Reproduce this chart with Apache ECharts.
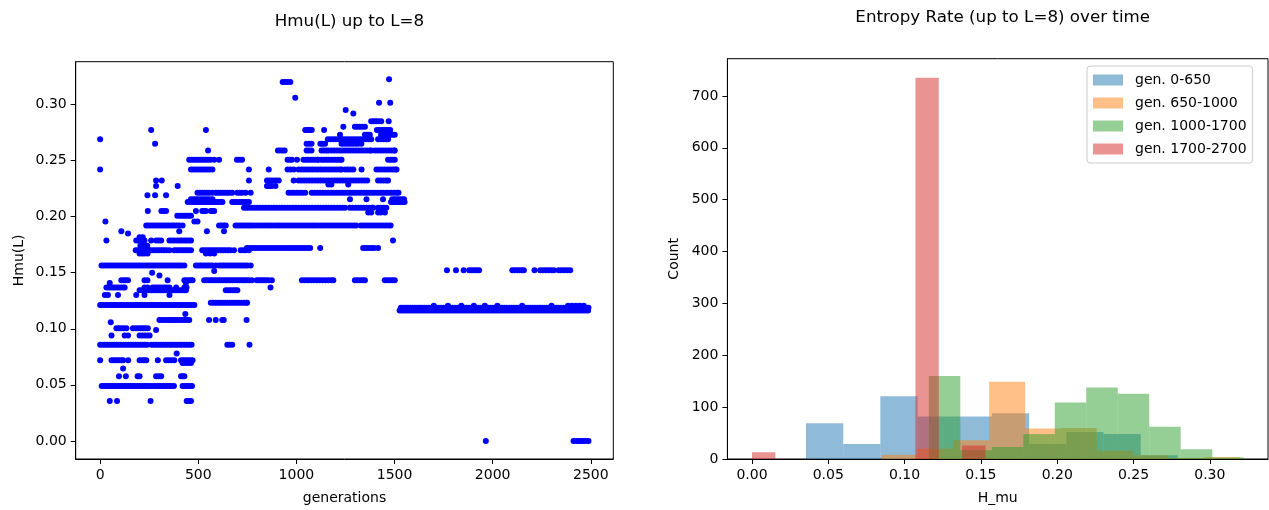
<!DOCTYPE html>
<html><head><meta charset="utf-8">
<script src="https://cdn.jsdelivr.net/npm/echarts@6/dist/echarts.min.js"></script>
<style>html,body{margin:0;padding:0;background:#fff}#c{width:1269px;height:510px}</style>
</head><body><div id="c"></div>
<script>
// ---------- Left panel: Hmu(L) per generation (generation lists per Hmu level) ----------
const g0000 = [1965,2412,2425,2438,2450,2462,2475,2488];
const g0357 = [49,86,257,441,452,463];
const g0489 = [8,20,32,44,56,68,80,92,104,116,128,140,152,164,176,188,200,212,224,236,248,262,276,290,302,314,326,338,350,362,376,420,432,444,456,468];
const g0577 = [96,131,191,201,285,298,311,412,421,429];
const g0645 = [117];
const g0695 = [420,435,450,463];
const g0719 = [0,58,70,82,95,107,117,143,201,213,224,235,294,336,350,364,378,412,424,436,448,460,471];
const g0780 = [390];
const g0857 = [0,12,24,36,48,60,72,84,96,108,120,132,144,156,168,180,192,204,216,228,240,262,274,286,298,310,322,334,346,358,370,382,394,406,418,430,442,454,466,648,660,673,761];
const g0940 = [58,125,142,201,214,227,240,252];
const g0990 = [285];
const g1005 = [83,95,108,120,134,167,180,193,206,218,230,243];
const g1058 = [54];
const g1079 = [302,315,328,341,354,367,380,393,406,419,432,445,454,555,589,622,630,746];
const g1132 = [434];
const g1163 = [1526,1538,1550,1562,1574,1586,1598,1610,1622,1634,1646,1658,1670,1682,1694,1706,1718,1730,1742,1754,1766,1778,1790,1802,1814,1826,1838,1850,1862,1874,1886,1898,1910,1922,1934,1946,1958,1970,1982,1994,2006,2018,2030,2042,2054,2066,2078,2090,2102,2114,2126,2138,2150,2162,2174,2186,2198,2210,2222,2234,2246,2258,2270,2282,2294,2306,2318,2330,2342,2354,2366,2378,2390,2402,2414,2426,2438,2450,2462,2474,2486];
const g1187 = [1532,1544,1556,1568,1580,1592,1604,1616,1628,1640,1652,1664,1676,1688,1700,1712,1724,1736,1748,1760,1772,1784,1796,1808,1820,1832,1844,1856,1868,1880,1892,1904,1916,1928,1940,1952,1964,1976,1988,2000,2012,2024,2036,2048,2060,2072,2084,2096,2108,2120,2132,2144,2156,2168,2180,2192,2204,2216,2228,2240,2252,2264,2276,2288,2300,2312,2324,2336,2348,2360,2372,2384,2396,2408,2420,2432,2444,2456,2468,2480,2488];
const g1205 = [1700,1772,1840,1904,1960,2024,2150,2300,2384,2404,2424,2444,2464];
const g1211 = [0,12,24,36,48,60,72,84,96,108,120,132,144,156,168,180,192,204,216,228,240,252,264,276,288,300,312,324,336,348,360,372,384,396,408,420,432,444,456,468,480];
const g1232 = [564,576,588,600,612,624,636,648,660,672,684,696,708,720,732,744,749];
const g1300 = [24,40,91,184,226,353];
const g1344 = [201,213,225,237,249,261,273,285,297,309,321,333,345,357,369,381,393,405,417,429,437,640,652,664,676,688,699];
const g1367 = [32,44,56,68,80,92,104,116,125,226,241,267,279,291,303,315,327,339,353,387,429,440,868];
const g1408 = [49,437];
const g1432 = [108,120,131,142,226,241,344,429,440,452,463,471,530,542,554,566,578,590,602,614,626,638,650,662,674,686,698,710,722,734,746,758,773,798,810,822,834,846,858,875,1028,1043,1058,1073,1088,1103,1118,1133,1148,1163,1178,1188,1298,1311,1324,1337,1349,1450,1463,1476,1489,1501];
const g1476 = [302];
const g1500 = [265];
const g1515 = [581];
const g1521 = [1767,1813,1852,1880,1893,1906,1919,1931,2100,2112,2125,2137,2149,2159,2213,2242,2256,2270,2284,2298,2311,2336,2350,2365,2380,2395];
const g1565 = [7,19,31,43,55,67,79,91,103,115,127,139,151,163,175,187,199,211,223,235,247,259,271,283,295,307,319,331,343,355,367,379,391,403,415,429,488,500,512,524,536,548,560,572,589,606,618,630,642,654,666,678,690,702,714,726,738,750,767];
const g1670 = [201,214,226,242,539,560,581];
const g1700 = [181,193,205,217,229,241,253,265,277,289,301,313,325,337,353,378,390,402,414,426,438,450,463,520,532,544,556,568,580,592,604,616,628,640,652,664,682,716,728,740,758];
const g1720 = [748,762,776,790,804,818,832,846,860,874,888,902,916,930,944,958,972,986,1000,1014,1028,1042,1056,1070,1121,1340,1354,1368,1382,1396,1416];
const g1740 = [205,222,240];
const g1786 = [32,184,196,208,220,226,260,285,298,311,353,366,378,393,405,417,429,441,453,463,1492];
const g1815 = [201,217];
const g1850 = [142];
const g1870 = [108,403,544,631];
const g1920 = [235,247,259,271,283,295,307,319,331,343,355,367,379,391,403,420,606,618,630,640,690,702,714,726,738,750,762,774,788,802,816,830,844,858,872,886,900,914,928,942,956,970,984,998,1012,1026,1040,1054,1068,1082,1096,1110,1124,1138,1152,1166,1180,1194,1208,1222,1236,1250,1264,1278,1292,1304,1328,1342,1356,1370,1384,1398,1412,1426,1440,1454,1468,1480];
const g1957 = [27,480,496];
const g2007 = [393,405,417,429,441,453,463];
const g2036 = [1366,1381,1416,1430,1451];
const g2051 = [243,312,324,336,488,520,530,539,564,572,581];
const g2080 = [733,745,758,773,787,801,815,829,843,857,871,885,899,913,927,941,955,969,983,997,1011,1025,1039,1053,1067,1081,1095,1109,1123,1137,1151,1165,1179,1193,1207,1221,1235,1248,1273,1287,1301,1315,1329,1343,1357,1371,1385,1391,1416,1430,1444,1458];
const g2130 = [446,458,470,482,494,506,518,530,542,554,566,578,590,602,614,623,673,685,697,709,721,733,745,758,1482,1492,1502,1512,1522,1532,1542,1551];
const g2154 = [463,475,487,499,511,523,535,547,559,572,1273,1357,1441,1488,1500,1512,1524,1536,1548];
const g2190 = [241,280,336];
const g2213 = [496,508,520,532,544,556,572,589,601,613,625,637,649,661,673,699,711,723,741,767,960,974,988,1002,1016,1030,1045,1078,1092,1106,1120,1134,1148,1162,1176,1190,1204,1218,1232,1246,1260,1274,1288,1302,1316,1330,1344,1358,1372,1386,1400,1414,1428,1442,1456,1470,1484,1498,1512,1520];
const g2272 = [285,395,850,862,874,893];
const g2287 = [1163,1178,1264];
const g2322 = [285,314,758,850,862,874,886,898,910,986,1011,1025,1039,1053,1067,1081,1095,1109,1123,1137,1151,1165,1179,1193,1207,1221,1235,1249,1263,1277,1291,1305,1319,1333,1347,1361,1416,1430,1444,1458,1467];
const g2420 = [0,463,475,487,499,511,523,535,547,559,572,758,859,955,970,986,1011,1025,1039,1053,1067,1081,1095,1109,1123,1137,1151,1165,1179,1193,1207,1221,1230,1248,1262,1276,1290,1332,1408,1422,1436,1450,1464,1478,1492,1504,1510];
const g2507 = [454,466,478,490,502,514,526,538,550,562,581,606,697,710,723,955,966,977,1003,1036,1048,1060,1072,1084,1096,1108,1112,1128,1140,1152,1164,1176,1188,1200,1212,1224,1230,1467,1478,1490,1501];
const g2590 = [550,906,917,929,940,1052,1064,1077,1128,1140,1152,1163,1178,1192,1206,1220,1234,1248,1262,1276,1290,1304,1318,1332,1346,1360,1374,1381,1400,1414,1428,1442,1456,1470,1484,1498,1501];
const g2650 = [280,1052,1064,1077,1122,1134,1146,1230,1244,1258,1272,1286,1300,1314,1331];
const g2690 = [0,1160,1174,1188,1202,1216,1230,1244,1258,1272,1286,1300,1314,1328,1342,1356,1370,1381,1416,1430,1444,1458,1467];
const g2730 = [1222,1349,1362,1374,1431,1443,1455,1467,1479,1491,1501];
const g2773 = [260,539,1045,1056,1067,1078,1141,1410,1422,1434,1446,1458,1470,1478];
const g2800 = [1239,1298,1310,1323,1336,1349];
const g2850 = [1381,1393,1405,1417,1432,1470];
const g2920 = [1290];
const g2950 = [1251];
const g3015 = [1421,1478];
const g3060 = [994];
const g3200 = [930,942,954,969];
const g3224 = [1472];

const scatterLevels = [
  [0.0, g0000],[0.0357, g0357],[0.0489, g0489],[0.0577, g0577],[0.0645, g0645],[0.0695, g0695],
  [0.0719, g0719],[0.078, g0780],[0.0857, g0857],[0.094, g0940],[0.099, g0990],[0.1005, g1005],
  [0.1058, g1058],[0.1079, g1079],[0.1132, g1132],[0.1163, g1163],[0.1187, g1187],[0.1205, g1205],
  [0.1211, g1211],[0.1232, g1232],[0.130, g1300],[0.1344, g1344],[0.1367, g1367],[0.1408, g1408],
  [0.1432, g1432],[0.1476, g1476],[0.150, g1500],[0.1515, g1515],[0.1521, g1521],[0.1565, g1565],
  [0.167, g1670],[0.170, g1700],[0.172, g1720],[0.174, g1740],[0.1786, g1786],[0.1815, g1815],
  [0.185, g1850],[0.187, g1870],[0.192, g1920],[0.1957, g1957],[0.2007, g2007],[0.2036, g2036],
  [0.2051, g2051],[0.208, g2080],[0.213, g2130],[0.2154, g2154],[0.219, g2190],[0.2213, g2213],
  [0.2272, g2272],[0.2287, g2287],[0.2322, g2322],[0.242, g2420],[0.2507, g2507],[0.259, g2590],
  [0.265, g2650],[0.269, g2690],[0.273, g2730],[0.2773, g2773],[0.280, g2800],[0.285, g2850],
  [0.292, g2920],[0.295, g2950],[0.3015, g3015],[0.306, g3060],[0.320, g3200],[0.3224, g3224]
];

const genTicks = [0, 500, 1000, 1500, 2000, 2500];
const hTicks = [0, 0.05, 0.10, 0.15, 0.20, 0.25, 0.30];
const countTicks = [0, 100, 200, 300, 400, 500, 600, 700];

// ---------- Right panel: histograms (bin edges + counts) ----------
const histNames = ['gen. 0-650', 'gen. 650-1000', 'gen. 1000-1700', 'gen. 1700-2700'];
const edges0650 = [0.0354,0.0598,0.0841,0.1085,0.1329,0.1572,0.1816,0.2060,0.2303,0.2547,0.2790];
const counts0650 = [69,29,121,82,82,88,29,52,48,7];
const edges1000 = [0.0849,0.1084,0.1319,0.1554,0.1789,0.2024,0.2259,0.2494,0.2729,0.2964,0.3199];
const counts1000 = [8,20,36,149,59,60,16,7,1,4];
const edges1700 = [0.1159,0.1365,0.1572,0.1778,0.1984,0.2190,0.2397,0.2603,0.2809,0.3016,0.3222];
const counts1700 = [160,17,23,48,109,138,126,62,19,3];
const edges2700 = [0,0.0153,0.0306,0.0459,0.0612,0.0765,0.0918,0.1071,0.1224,0.1377,0.1530];
const counts2700 = [13,0,0,0,0,0,0,735,0,26];
const histColors = ['rgba(31,119,180,0.5)','rgba(255,127,14,0.5)','rgba(44,160,44,0.5)','rgba(214,39,40,0.5)'];

// ---------- build ----------
const scatterData = [];
scatterLevels.forEach(([v, gens]) => gens.forEach(g => scatterData.push([g, v])));

function binData(edges, counts) {
  const out = [];
  counts.forEach((c, i) => { if (c > 0) out.push([edges[i], edges[i + 1], c]); });
  return out;
}
const histSets = [[edges0650, counts0650],[edges1000, counts1000],[edges1700, counts1700],[edges2700, counts2700]];

const FONT = 'DejaVu Sans';
const txt = { color: '#000', fontFamily: FONT, fontSize: 14 };

function valAxis(grid, min, max, ticks, fmt, name, gap) {
  return {
    gridIndex: grid, type: 'value', min: min, max: max,
    axisLine: { show: true, onZero: false, lineStyle: { color: '#000', width: 1 } },
    axisTick: { show: true, customValues: ticks, length: 5, lineStyle: { color: '#000', width: 1 } },
    axisLabel: Object.assign({ customValues: ticks, formatter: fmt, margin: 9 }, txt),
    splitLine: { show: false },
    name: name, nameLocation: 'middle', nameGap: gap,
    nameTextStyle: Object.assign({}, txt)
  };
}

const chart = echarts.init(document.getElementById('c'));
chart.setOption({
  animation: false,
  backgroundColor: '#fff',
  textStyle: { fontFamily: FONT },
  title: [
    { text: 'Hmu(L) up to L=8', left: 344.5, top: 8, textAlign: 'center',
      textStyle: { color: '#000', fontFamily: FONT, fontSize: 16.7, fontWeight: 'normal' } },
    { text: 'Entropy Rate (up to L=8) over time', left: 997.7, top: 4, textAlign: 'center',
      textStyle: { color: '#000', fontFamily: FONT, fontSize: 16.7, fontWeight: 'normal' } }
  ],
  grid: [
    { left: 75.7, right: 655.7, top: 61.7, bottom: 46.7, show: true, borderColor: '#000', borderWidth: 1, backgroundColor: 'transparent' },
    { left: 727.4, right: 1, top: 58.7, bottom: 47, show: true, borderColor: '#000', borderWidth: 1, backgroundColor: 'transparent' }
  ],
  xAxis: [
    valAxis(0, -124.5, 2614.5, genTicks, v => String(v), 'generations', 32),
    valAxis(1, -0.0161, 0.3381, hTicks, v => v.toFixed(2), 'H_mu', 32)
  ],
  yAxis: [
    valAxis(0, -0.0161, 0.3381, hTicks, v => v.toFixed(2), 'Hmu(L)', 49),
    valAxis(1, 0, 771.75, countTicks, v => String(v), 'Count', 46)
  ],
  legend: {
    data: histNames, left: 1087, top: 66, orient: 'vertical', icon: 'rect',
    itemWidth: 30, itemHeight: 11, itemGap: 9, padding: [7, 6, 7, 6],
    backgroundColor: 'rgba(255,255,255,0.8)', borderColor: '#cccccc', borderWidth: 1, borderRadius: 3,
    textStyle: { color: '#000', fontFamily: FONT, fontSize: 14, lineHeight: 14, padding: [0, 0, 0, 7] }
  },
  series: [
    { type: 'scatter', xAxisIndex: 0, yAxisIndex: 0, symbolSize: 6,
      itemStyle: { color: '#0000ff', opacity: 1 }, data: scatterData, silent: true }
  ].concat(histSets.map((s, i) => ({
    type: 'custom', name: histNames[i], xAxisIndex: 1, yAxisIndex: 1,
    color: histColors[i],
    encode: { x: [0, 1], y: 2 },
    data: binData(s[0], s[1]),
    renderItem: function (params, api) {
      const p0 = api.coord([api.value(0), api.value(2)]);
      const p1 = api.coord([api.value(1), 0]);
      return { type: 'rect', shape: { x: p0[0], y: p0[1], width: p1[0] - p0[0], height: p1[1] - p0[1] },
               style: { fill: histColors[i] } };
    }
  })))
});
</script></body></html>
